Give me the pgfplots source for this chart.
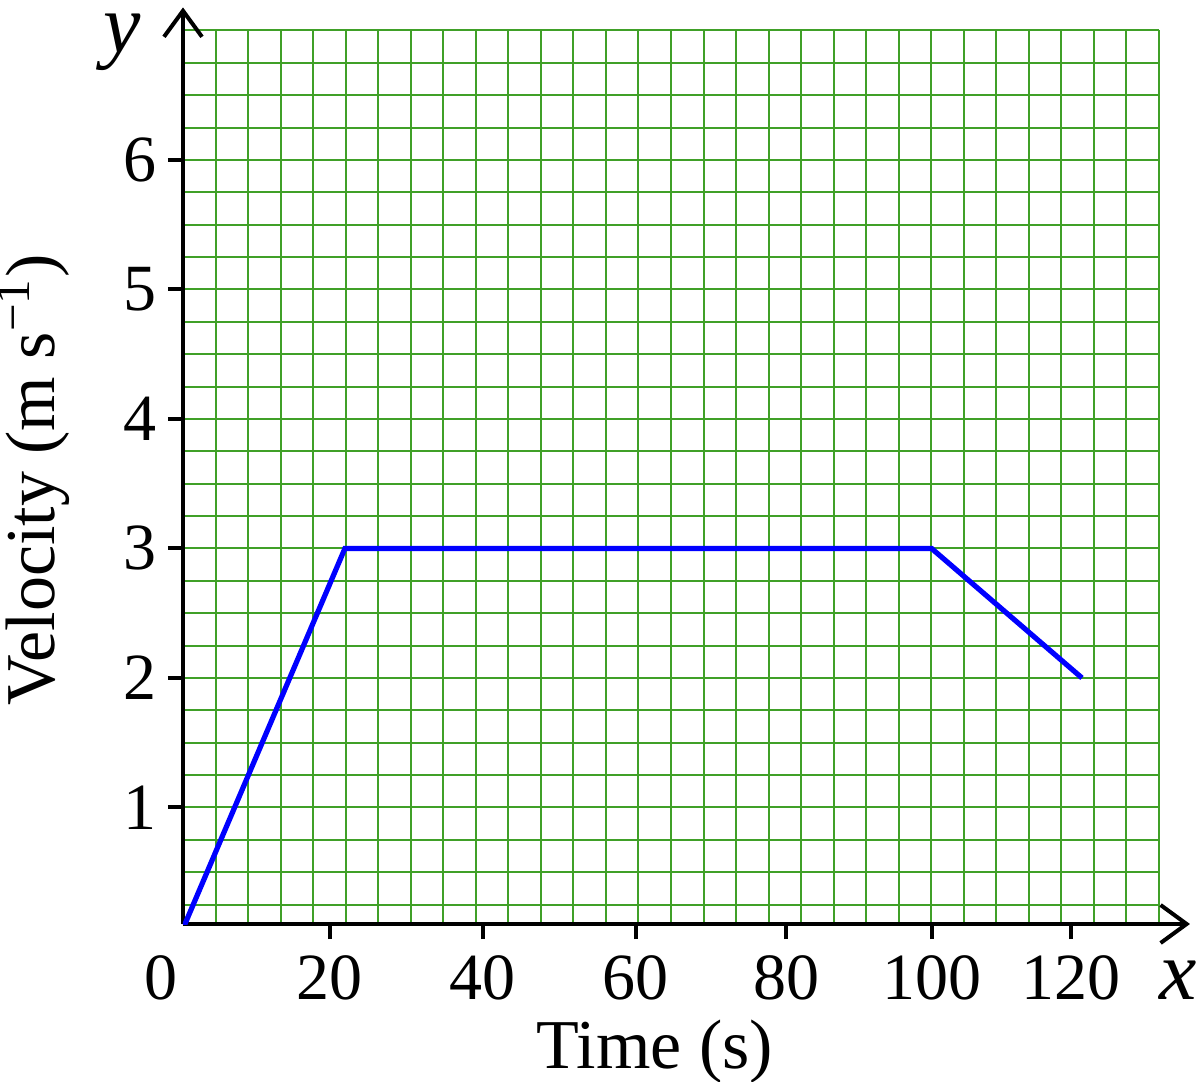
\documentclass[border=0pt]{standalone}
\usepackage{fontspec}
\setmainfont{Liberation Serif}
\usepackage{pgfplots}
\pgfplotsset{compat=1.18}
\usetikzlibrary{arrows.meta}
\definecolor{gridgreen}{RGB}{64,160,40}
\begin{document}
\begin{tikzpicture}
\begin{axis}[
  scale only axis, width=244pt, height=223.4pt,
  xmin=0.47, xmax=130.24, ymin=0.1, ymax=7,
  axis lines=left,
  axis line style={line width=1pt, -{Straight Barb[length=6.5pt,width=9.5pt,line width=1pt]}},
  x axis line style={shorten >=-7.75pt},
  y axis line style={shorten >=-5.75pt},
  xtick={20.0,40.3,60.7,80.7,100.0,118.6},
  xticklabels={20,40,60,80,100,120},
  ytick={1,2,3,4,5,6},
  minor xtick={4.7957,9.1214,...,130.3},
  minor ytick={0.25,0.5,...,7},
  xminorgrids=true, ymajorgrids=true, yminorgrids=true,
  major grid style={gridgreen, line width=0.5pt},
  minor grid style={gridgreen, line width=0.5pt},
  tick align=outside,
  major tick length=3.75pt,
  minor tick length=0pt,
  tick style={black, line width=1pt},
  /pgf/number format/assume math mode=true,
  every tick label/.append style={font=\fontsize{16.5}{19}\selectfont},
  xticklabel style={inner sep=0pt, anchor=north, yshift=-4pt},
  yticklabel style={inner sep=0pt, anchor=east, xshift=-2.75pt},
  extra x ticks={0.47},
  extra x tick labels={0},
  extra x tick style={major tick length=3.75pt, tick style={draw opacity=0}, xticklabel style={xshift=-5.5pt}},
  xlabel={Time (s)},
  xlabel style={at={(axis description cs:0.4836,-0.1612)}, anchor=base, inner sep=0pt, font=\fontsize{17.5}{21}\selectfont},
  ylabel={Velocity (m s\textsuperscript{−1})},
  ylabel style={at={(axis description cs:-0.1317,0.497)}, anchor=base, inner sep=0pt, font=\fontsize{17.5}{21}\selectfont},
]
\addplot[color={rgb,255:red,0;green,0;blue,255}, line width=1.3pt] coordinates {(0,0) (22,3) (100,3) (120,2)};
\coordinate (O) at (axis description cs:0,0);
\coordinate (XL) at (axis description cs:1.0195,-0.085);
\coordinate (YL) at (axis description cs:-0.0625,0.9758);
\end{axis}
\node[anchor=base, inner sep=0pt, font=\fontsize{21}{25}\selectfont\itshape] at (XL) {x};
\node[anchor=base, inner sep=0pt, font=\fontsize{21}{25}\selectfont\itshape] at (YL) {y};
\pgfresetboundingbox
\path ([shift={(-45.75pt,-39.5pt)}]O) rectangle ++(300pt,270.5pt);
\end{tikzpicture}
\end{document}
